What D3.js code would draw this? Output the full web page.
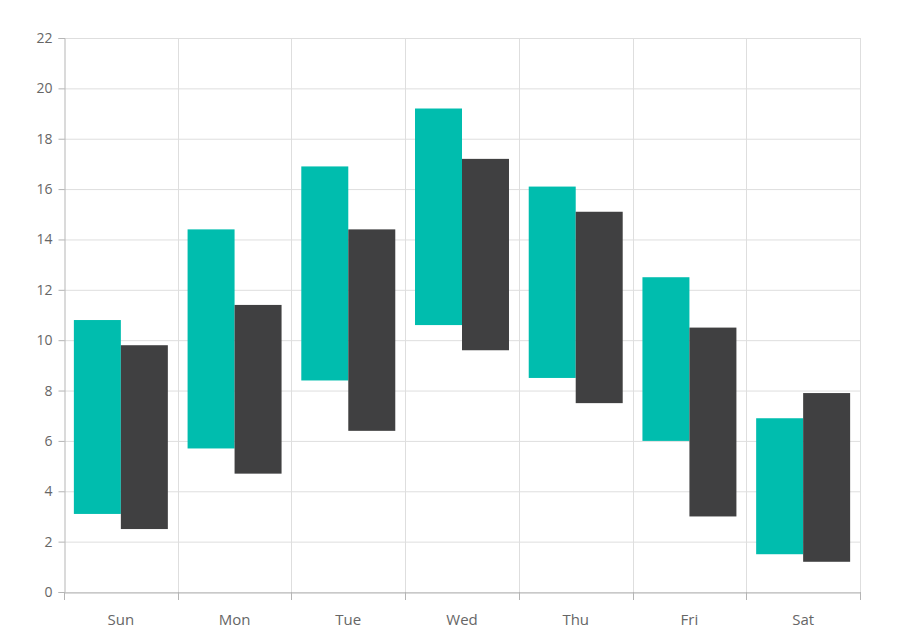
<!DOCTYPE html>
<html><head><meta charset="utf-8">
<script src="https://cdn.jsdelivr.net/npm/d3@7"></script>
<style>body{margin:0;background:#fff}</style>
</head><body>
<script>
var days = ["Sun", "Mon", "Tue", "Wed", "Thu", "Fri", "Sat"];
var lowA = [3.1, 5.7, 8.4, 10.6, 8.5, 6.0, 1.5];
var highA = [10.8, 14.4, 16.9, 19.2, 16.1, 12.5, 6.9];
var lowB = [2.5, 4.7, 6.4, 9.6, 7.5, 3.0, 1.2];
var highB = [9.8, 11.4, 14.4, 17.2, 15.1, 10.5, 7.9];
var yTicks = d3.range(0, 23, 2);

var w = 897, h = 641;
var plotLeft = 64, plotRight = 860, plotTop = 38, plotBottom = 592;
var svg = d3.select("body").append("svg").attr("width", w).attr("height", h);

var x = d3.scaleBand().domain(days).range([plotLeft, plotRight]);
var inner = d3.scaleBand().domain([0, 1]).range([0, x.bandwidth()]).paddingOuter(0.21).paddingInner(0);
var y = d3.scaleLinear().domain([0, 22]).range([plotBottom, plotTop]);

var font = "'Open Sans', 'Noto Sans', sans-serif";

svg.append("g").selectAll("line").data(yTicks).join("line")
    .attr("x1", plotLeft).attr("x2", plotRight)
    .attr("y1", d => y(d) + 0.5).attr("y2", d => y(d) + 0.5)
    .attr("stroke", "#dedede");
svg.append("g").selectAll("line").data(d3.range(1, 8)).join("line")
    .attr("x1", i => Math.round(plotLeft + i * x.step()) + 0.5)
    .attr("x2", i => Math.round(plotLeft + i * x.step()) + 0.5)
    .attr("y1", plotTop).attr("y2", plotBottom)
    .attr("stroke", "#dedede");

var series = [
    {low: lowA, high: highA, color: "#00bdae"},
    {low: lowB, high: highB, color: "#404041"}
];
series.forEach(function (s, k) {
    svg.append("g").selectAll("rect").data(days).join("rect")
        .attr("x", d => x(d) + inner(k))
        .attr("width", inner.bandwidth())
        .attr("y", (d, i) => y(s.high[i]))
        .attr("height", (d, i) => y(s.low[i]) - y(s.high[i]))
        .attr("fill", s.color);
});

// y axis
var ya = svg.append("g").attr("transform", "translate(" + (plotLeft + 0.5) + ",0)")
    .call(d3.axisLeft(y).tickValues(yTicks).tickSize(6).tickPadding(6));
ya.select(".domain").attr("stroke", "#b5b5b5");
ya.selectAll(".tick line").attr("stroke", "#b5b5b5");
ya.selectAll("text").attr("fill", "#666").style("font-size", "14px").style("font-family", font);

// x axis
var xa = svg.append("g").attr("transform", "translate(0," + (plotBottom + 0.5) + ")")
    .call(d3.axisBottom(x).tickSize(0).tickPadding(22));
xa.select(".domain").attr("stroke", "#b5b5b5");
xa.selectAll("text").attr("fill", "#666").style("font-size", "15px").style("font-family", font);
svg.append("g").selectAll("line").data(d3.range(8)).join("line")
    .attr("x1", i => Math.round(plotLeft + i * x.step()) + 0.5)
    .attr("x2", i => Math.round(plotLeft + i * x.step()) + 0.5)
    .attr("y1", plotBottom).attr("y2", plotBottom + 8)
    .attr("stroke", "#b5b5b5");
</script>
</body></html>
